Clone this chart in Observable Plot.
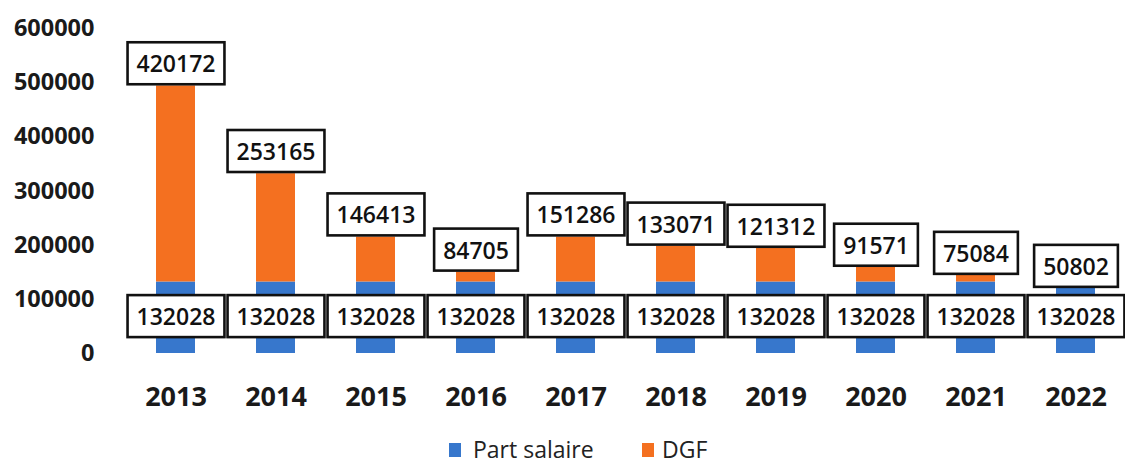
<!DOCTYPE html>
<html><head><meta charset="utf-8">
<script src="https://cdn.jsdelivr.net/npm/d3@7"></script>
<script src="https://cdn.jsdelivr.net/npm/@observablehq/plot@0.6"></script>
<style>
body{margin:0;background:#fff;font-family:"Open Sans",sans-serif;}
#wrap{position:relative;width:1125px;height:464px;}
#legend{position:absolute;left:0;top:425px;width:1125px;height:39px;}
.sw{position:absolute;width:12px;height:14px;top:18px;}
.lt{position:absolute;font-size:23px;line-height:normal;top:7.5px;color:#222;white-space:nowrap;}
</style></head><body>
<div id="wrap"><div id="chart"></div><div id="legend"></div></div>
<script>
const years = ["2013","2014","2015","2016","2017","2018","2019","2020","2021","2022"];
// values printed in the labels
const salaireLabel = [132028,132028,132028,132028,132028,132028,132028,132028,132028,132028];
const dgfLabel = [420172,253165,146413,84705,151286,133071,121312,91571,75084,50802];
// bar segment heights as drawn in the picture
const salaireBar = [132028,132028,132028,132028,132028,132028,132028,132028,132028,120000];
const dgfBar = [362000,200000,83000,18000,83000,66000,62000,27000,12000,0];
const seriesNames = ["Part salaire","DGF"];
const seriesColors = ["#3777cc","#f47020"];
const yTicks = [0,100000,200000,300000,400000,500000,600000];

const stackData = years.flatMap((y,i)=>[
  {year:y, series:seriesNames[0], value:salaireBar[i]},
  {year:y, series:seriesNames[1], value:dgfBar[i]}
]);
const bottomLabels = years.map((y,i)=>({year:y, mid:salaireLabel[i]/2, text:String(salaireLabel[i])}));
const topLabels = years.map((y,i)=>({year:y, total:salaireBar[i]+dgfBar[i], text:String(dgfLabel[i])}));

const chart = Plot.plot({
  width:1125, height:425,
  marginLeft:131, marginRight:6, marginTop:28, marginBottom:72,
  style:{fontFamily:'"Open Sans", sans-serif', color:"#1a1a1a", background:"#fff", overflow:"visible"},
  x:{domain:years, paddingInner:0.61, paddingOuter:0.2, label:null},
  y:{domain:[0,600000], label:null},
  color:{domain:seriesNames, range:seriesColors},
  marks:[
    Plot.barY(stackData,{x:"year", y:"value", fill:"series"}),
    Plot.text(bottomLabels,{x:"year", y:"mid", text:"text", fontSize:23, fontWeight:600, fill:"#111"}),
    Plot.text(topLabels,{x:"year", y:"total", text:"text", dy:-21, fontSize:23, fontWeight:600, fill:"#111"}),
    Plot.axisY({ticks:yTicks, tickFormat:d=>String(d), tickSize:0, tickPadding:37, fontSize:23.5, fontWeight:"bold", label:null}),
    Plot.axisX({tickSize:0, tickPadding:33, fontSize:27, fontWeight:"bold", label:null})
  ]
});
document.getElementById("chart").appendChild(chart);

// white boxes with black borders behind the data labels
const svgNS = "http://www.w3.org/2000/svg";
chart.querySelectorAll('g[aria-label="text"] text').forEach(t=>{
  const b = t.getBBox();
  const r = document.createElementNS(svgNS,"rect");
  const cy = b.y + b.height/2;
  r.setAttribute("x", b.x - 9);
  r.setAttribute("y", cy - 21);
  r.setAttribute("width", b.width + 18);
  r.setAttribute("height", 42);
  r.setAttribute("fill", "#fff");
  r.setAttribute("stroke", "#111");
  r.setAttribute("stroke-width", 2.6);
  const tr = t.getAttribute("transform");
  if (tr) r.setAttribute("transform", tr);
  t.parentNode.insertBefore(r, t);
});

// legend
const legend = document.getElementById("legend");
const pos = [{sw:449, tx:473},{sw:642, tx:662}];
seriesNames.forEach((n,i)=>{
  const s = document.createElement("div");
  s.className="sw"; s.style.left=pos[i].sw+"px"; s.style.background=seriesColors[i];
  const l = document.createElement("div");
  l.className="lt"; l.style.left=pos[i].tx+"px"; l.textContent=n;
  legend.appendChild(s); legend.appendChild(l);
});
</script>
</body></html>
